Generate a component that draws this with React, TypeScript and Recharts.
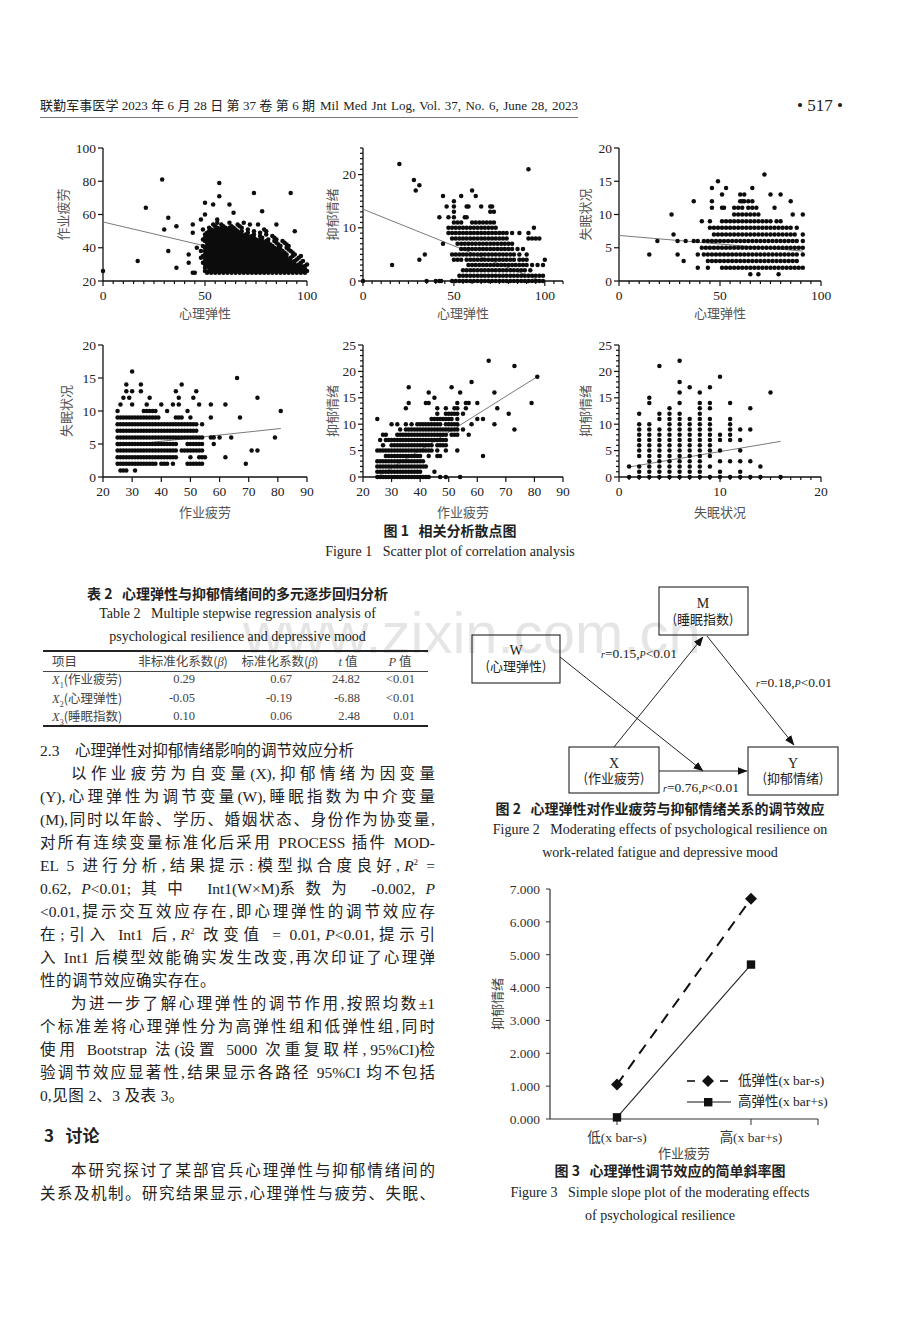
import React, { useLayoutEffect, useRef, useState } from 'react';
import { ScatterChart, Scatter, XAxis, YAxis, LineChart, Line, Legend } from 'recharts';

const SERIF = "'Liberation Serif', 'Times New Roman', serif";
const MIX = "'Liberation Serif', 'Noto Sans CJK SC', serif";
const CJK = "'Noto Sans CJK SC', sans-serif";

type Pt = { x: number; y: number };
type Rows = [number, number[]][];
const rowsToPts = (rows: Rows): Pt[] => rows.flatMap(([y, xs]) => xs.map((x) => ({ x, y })));
const colsToPts = (cols: Rows): Pt[] => cols.flatMap(([x, ys]) => ys.map((y) => ({ x, y })));
const pairsToPts = (pairs: [number, number][]): Pt[] => pairs.map(([x, y]) => ({ x, y }));

// ---------- Figure 1, panel 1: 心理弹性 (x) vs 作业疲劳 (y); rows = [fatigue, resilience values] ----------
const p1Rows: Rows = [
  [25, [45, 51, 53, 55, 57, 59, 61, 63, 65, 67, 69, 71, 73, 75, 77, 79, 81, 83, 85, 87, 89, 91, 93, 95, 97, 99]],
  [26, [50, 52, 54, 56, 58, 60, 62, 64, 66, 68, 70, 72, 74, 76, 78, 80, 82, 84, 86, 88, 90, 92, 94, 96, 98, 100]],
  [27, [53, 55, 57, 59, 61, 63, 65, 67, 69, 71, 73, 75, 77, 79, 81, 83, 85, 87, 89, 91, 93, 95, 97, 99]],
  [28, [50, 52, 54, 56, 58, 60, 62, 64, 66, 68, 70, 72, 74, 76, 78, 80, 82, 84, 86, 88, 90, 92, 94, 96, 98]],
  [29, [51, 53, 55, 57, 59, 61, 63, 65, 67, 69, 71, 73, 75, 77, 79, 81, 83, 85, 87, 89, 91, 93, 95, 97, 99]],
  [30, [50, 52, 54, 56, 58, 60, 62, 64, 66, 68, 70, 72, 74, 76, 78, 80, 82, 84, 86, 88, 90, 92, 94, 96, 100]],
  [31, [49, 51, 53, 55, 57, 59, 61, 63, 65, 67, 69, 71, 73, 75, 77, 79, 81, 83, 85, 87, 89, 91, 93, 97]],
  [32, [50, 52, 54, 56, 58, 60, 62, 64, 66, 68, 70, 72, 74, 76, 78, 80, 82, 84, 86, 88, 90, 92, 94, 98]],
  [33, [51, 53, 55, 57, 59, 61, 63, 65, 67, 69, 71, 73, 75, 77, 79, 81, 83, 85, 87, 89, 91, 95]],
  [34, [48, 50, 52, 54, 56, 58, 60, 62, 64, 66, 68, 70, 72, 74, 76, 78, 80, 82, 84, 86, 88, 90, 92, 96]],
  [35, [49, 51, 53, 55, 57, 59, 61, 63, 65, 67, 69, 71, 73, 75, 77, 79, 81, 83, 85, 87, 89, 93, 97]],
  [36, [50, 52, 54, 56, 58, 60, 62, 64, 66, 68, 70, 72, 74, 76, 78, 80, 82, 84, 86, 88, 90, 94]],
  [37, [51, 53, 55, 57, 59, 61, 63, 65, 67, 69, 71, 73, 75, 77, 79, 81, 83, 85, 87, 89, 93]],
  [38, [48, 50, 52, 54, 56, 58, 60, 62, 64, 66, 68, 70, 72, 74, 76, 78, 80, 82, 84, 86, 88, 92]],
  [39, [51, 53, 55, 57, 59, 61, 63, 65, 67, 69, 71, 73, 75, 77, 79, 81, 83, 85, 87, 91]],
  [40, [50, 52, 54, 56, 58, 60, 62, 64, 66, 68, 70, 72, 74, 76, 78, 80, 82, 84, 86, 90]],
  [41, [49, 51, 53, 55, 57, 59, 61, 63, 65, 67, 69, 71, 73, 75, 77, 79, 81, 83, 87, 91]],
  [42, [52, 54, 56, 58, 60, 62, 64, 66, 68, 70, 72, 74, 76, 78, 80, 82, 86, 90]],
  [43, [51, 53, 55, 57, 59, 61, 63, 65, 67, 69, 71, 73, 75, 77, 79, 81, 85, 89]],
  [44, [50, 52, 54, 56, 58, 60, 62, 64, 66, 68, 70, 72, 74, 76, 78, 80, 84, 88]],
  [45, [49, 51, 53, 55, 57, 59, 61, 63, 65, 67, 69, 71, 73, 75, 77, 81, 85]],
  [46, [50, 52, 54, 56, 58, 60, 62, 64, 66, 68, 70, 72, 74, 78, 84]],
  [47, [51, 53, 55, 57, 59, 61, 63, 65, 67, 69, 71, 73, 77, 83]],
  [48, [50, 52, 54, 56, 58, 60, 62, 64, 66, 68, 70, 74, 80]],
  [49, [51, 53, 55, 57, 59, 61, 63, 65, 67, 71, 77]],
  [50, [52, 54, 56, 58, 60, 62, 64, 66, 68, 74, 80]],
  [51, [49, 53, 55, 57, 59, 61, 63, 65, 71]],
  [52, [52, 56, 58, 60, 62, 64, 68]],
  [53, [55, 59, 63, 67]],
  [54, [54, 58, 66, 72]],
  [55, [56, 62, 69]],
];
const p1Extra: [number, number][] = [
  [0, 26], [17, 32], [21, 64], [29, 81], [30, 51], [32, 58], [32, 38], [36, 53], [36, 28], [42, 36], [42, 31],
  [44, 49], [44, 54], [44, 25], [46, 40], [48, 57], [50, 67], [50, 60], [54, 66], [57, 79], [57, 71], [56, 57],
  [62, 66], [64, 61], [74, 73], [76, 54], [78, 62], [79, 51], [85, 54], [92, 73], [94, 50],
];
const p1Fit: Pt[] = [{ x: 0, y: 55.5 }, { x: 100, y: 26.7 }];

// ---------- panel 2: 心理弹性 (x) vs 抑郁情绪 (y) ----------
const p2Rows: Rows = [
  [0, [49, 51, 53, 55, 57, 59, 61, 63, 65, 67, 69, 71, 73, 75, 77, 79, 81, 83, 85, 87, 89, 91, 93, 95, 97, 99]],
  [1, [53, 55, 57, 59, 61, 63, 65, 67, 69, 71, 73, 75, 77, 79, 81, 83, 85, 87, 89, 91, 93, 95, 97, 99]],
  [2, [55, 57, 59, 61, 63, 65, 67, 69, 71, 73, 75, 77, 79, 81, 83, 85, 87, 89, 92]],
  [3, [58, 60, 62, 64, 66, 68, 70, 72, 74, 76, 78, 80, 82, 84, 86, 88, 90, 93, 96, 99]],
  [4, [50, 52, 54, 57, 59, 61, 63, 65, 67, 69, 71, 73, 75, 77, 79, 81, 83, 86, 88, 90, 100]],
  [5, [49, 51, 53, 55, 57, 59, 61, 63, 65, 67, 69, 71, 73, 75, 77, 79, 81, 83, 86, 90]],
  [6, [54, 56, 58, 60, 62, 64, 66, 68, 70, 72, 74, 76, 78, 80, 82, 85, 88]],
  [7, [52, 54, 56, 58, 60, 62, 64, 66, 68, 70, 72, 74, 76, 78, 80, 82]],
  [8, [49, 51, 53, 55, 57, 59, 61, 63, 65, 67, 69, 71, 73, 75, 77, 79, 91, 93, 95, 97]],
  [9, [47, 49, 51, 53, 55, 57, 59, 61, 63, 65, 67, 69, 71, 73, 75, 77, 79, 82, 86, 91]],
  [10, [47, 49, 51, 53, 55, 57, 59, 61, 63, 65, 67, 69, 71, 73, 94]],
  [11, [50, 52, 54, 60, 62, 64, 66, 68, 70, 72]],
  [12, [47, 50, 56, 57]],
  [13, [50, 70, 72]],
  [14, [46, 50, 57, 58, 65, 70, 71]],
  [15, [50]],
];
const p2Extra: [number, number][] = [
  [0, 0], [16, 3], [20, 22], [28, 19], [29, 17], [31, 18], [31, 4], [34, 5], [35, 0], [40, 0], [42, 0], [43, 0],
  [42, 12], [44, 16], [44, 7], [54, 16], [60, 17], [62, 16], [91, 21],
];
const p2Fit: Pt[] = [{ x: 0, y: 13.5 }, { x: 98, y: 0 }];

// ---------- panel 3: 心理弹性 (x) vs 失眠状况 (y) ----------
const p3Rows: Rows = [
  [1, [65, 69, 79]],
  [2, [39, 44, 51, 53, 55, 57, 59, 61, 63, 65, 67, 69, 71, 73, 75, 77, 79, 81, 83, 85, 87, 89, 91]],
  [3, [32, 44, 46, 48, 50, 52, 54, 56, 58, 60, 62, 64, 66, 68, 70, 72, 74, 76, 78, 80, 82, 84, 86, 88]],
  [4, [15, 29, 39, 42, 44, 46, 48, 50, 52, 54, 56, 58, 60, 62, 64, 66, 68, 70, 72, 74, 76, 78, 80, 82, 84, 86, 88, 91]],
  [5, [41, 43, 45, 47, 49, 51, 53, 55, 57, 59, 61, 63, 65, 67, 69, 71, 73, 75, 77, 79, 81, 83, 85, 87, 89, 91]],
  [6, [19, 29, 33, 37, 39, 42, 44, 46, 48, 50, 52, 54, 56, 58, 60, 62, 64, 66, 68, 70, 72, 74, 76, 78, 80, 82, 84, 86, 88, 91]],
  [7, [27, 47, 49, 51, 53, 55, 57, 59, 61, 63, 65, 67, 69, 71, 73, 75, 77, 79, 81, 83, 85, 87, 91]],
  [8, [45, 47, 49, 51, 53, 55, 57, 59, 61, 63, 65, 67, 69, 71, 73, 75, 77, 79, 81, 83, 85, 88]],
  [9, [41, 45, 51, 53, 55, 57, 59, 61, 63, 65, 67, 69, 71, 73, 75, 78, 80]],
  [10, [26, 57, 59, 61, 63, 65, 67, 69, 86, 91]],
  [11, [46, 51, 52, 57, 59, 61, 64, 66, 68, 77]],
  [12, [37, 46, 60, 61, 62, 64, 66, 85]],
  [13, [51, 60, 62, 75, 80]],
  [14, [46, 53, 66]],
  [15, [49]],
  [16, [72]],
];
const p3Fit: Pt[] = [{ x: 0, y: 6.85 }, { x: 91, y: 4.5 }];

// ---------- panel 4: 作业疲劳 (x) vs 失眠状况 (y) ----------
const p4Rows: Rows = [
  [1, [26, 27, 28, 31]],
  [2, [25, 26, 27, 28, 29, 30, 31, 32, 33, 34, 35, 36, 37, 38, 40, 41, 42, 44, 49, 50, 51, 52, 53, 54, 69]],
  [3, [25, 26, 27, 28, 29, 30, 31, 32, 33, 34, 35, 36, 37, 38, 39, 40, 41, 42, 43, 44, 45, 50, 53, 54, 55, 62]],
  [4, [25, 26, 27, 28, 29, 30, 31, 32, 33, 34, 35, 36, 37, 38, 39, 40, 41, 42, 43, 44, 45, 47, 48, 49, 50, 51, 52, 53, 54, 71, 73]],
  [5, [25, 26, 27, 28, 29, 30, 31, 32, 33, 34, 35, 36, 37, 38, 39, 40, 41, 42, 43, 44, 45, 49, 50, 51, 52, 53, 54, 58]],
  [6, [25, 26, 27, 28, 29, 30, 31, 32, 33, 34, 35, 36, 37, 38, 39, 40, 41, 42, 43, 44, 45, 46, 47, 48, 49, 50, 51, 52, 53, 54, 57, 58, 60, 64, 79]],
  [7, [25, 26, 27, 28, 29, 30, 31, 32, 33, 34, 35, 36, 37, 38, 39, 40, 41, 42, 43, 44, 45, 46, 47, 48, 49, 50, 51, 52]],
  [8, [25, 26, 27, 28, 29, 30, 31, 32, 33, 34, 35, 36, 37, 38, 39, 40, 41, 42, 43, 44, 45, 46, 47, 48, 49, 50, 51, 52, 54]],
  [9, [25, 26, 27, 28, 29, 30, 31, 32, 33, 34, 35, 36, 37, 38, 39, 45, 46, 47, 50, 57, 67]],
  [10, [25, 34, 35, 36, 37, 38, 42, 49, 81]],
  [11, [26, 30, 35, 40, 44, 46, 53, 57, 62]],
  [12, [27, 29, 36, 46, 51, 73]],
  [13, [28, 30, 33, 45, 52]],
  [14, [28, 33, 47]],
  [15, [66]],
  [16, [30]],
];
const p4Fit: Pt[] = [{ x: 25, y: 4.7 }, { x: 81, y: 7.35 }];

// ---------- panel 5: 作业疲劳 (x) vs 抑郁情绪 (y) ----------
const p5Rows: Rows = [
  [0, [25, 26, 27, 28, 29, 30, 31, 32, 33, 34, 35, 36, 37, 38, 39, 40, 41, 42, 43, 47, 49, 54]],
  [1, [25, 26, 27, 28, 29, 30, 31, 32, 33, 34, 35, 36, 37, 38, 39, 40, 45]],
  [2, [25, 26, 27, 28, 29, 30, 31, 32, 33, 34, 35, 36, 37, 38, 39, 40, 41, 42]],
  [3, [25, 26, 27, 28, 29, 30, 31, 32, 33, 34, 35, 36, 37, 38, 39, 40, 41]],
  [4, [28, 29, 30, 31, 32, 33, 34, 35, 36, 37, 38, 39, 40, 43, 46, 47, 62]],
  [5, [25, 26, 27, 28, 29, 30, 31, 32, 33, 34, 35, 36, 37, 38, 39, 40, 41, 42, 43, 44, 46, 49, 53]],
  [6, [27, 30, 31, 32, 33, 34, 35, 36, 37, 38, 39, 40, 41, 42, 43, 44, 46, 47, 48, 49]],
  [7, [26, 28, 29, 30, 31, 32, 33, 34, 35, 36, 37, 38, 39, 40, 41, 42, 43, 44, 45, 46, 47, 48, 49]],
  [8, [27, 28, 32, 33, 34, 35, 36, 37, 38, 39, 40, 41, 42, 43, 44, 45, 46, 47, 48, 49, 51, 52, 53, 57]],
  [9, [33, 35, 36, 37, 38, 39, 40, 41, 42, 43, 44, 45, 46, 47, 48, 49, 50, 51, 52, 53, 55, 73]],
  [10, [30, 32, 35, 37, 39, 40, 41, 42, 43, 44, 45, 46, 47, 49, 50, 51, 52, 53, 58, 66]],
  [11, [25, 44, 45, 46, 47, 48, 49, 50, 51, 53, 60, 62]],
  [12, [46, 49, 50, 51, 52, 53, 55, 71]],
  [13, [35, 46, 49, 52, 53, 56, 67]],
  [14, [36, 42, 43, 53, 56, 57, 60, 79]],
  [15, [45]],
  [16, [43, 54, 66]],
  [17, [36, 51]],
  [18, [58]],
  [19, [81]],
  [21, [73]],
  [22, [64]],
];
const p5Fit: Pt[] = [{ x: 25, y: 0 }, { x: 81, y: 19 }];

// ---------- panel 6: 失眠状况 (x) vs 抑郁情绪 (y), columns = [x, y values] ----------
const p6Cols: Rows = [
  [1, [0, 2]],
  [2, [0, 1, 2, 4, 5, 6, 7, 8, 9, 10, 12]],
  [3, [0, 1, 2, 3, 4, 5, 6, 7, 8, 9, 10, 14, 15]],
  [4, [0, 1, 2, 3, 4, 5, 6, 7, 8, 9, 11, 12, 21]],
  [5, [0, 1, 2, 3, 4, 5, 6, 7, 8, 9, 10, 11, 12, 13]],
  [6, [0, 1, 2, 3, 4, 5, 6, 7, 8, 9, 10, 11, 12, 14, 16, 18, 22]],
  [7, [0, 1, 2, 3, 4, 5, 6, 7, 8, 9, 10, 11, 17]],
  [8, [0, 1, 2, 3, 4, 5, 6, 7, 8, 9, 10, 11, 12, 13, 14, 16]],
  [9, [0, 2, 4, 5, 6, 7, 8, 9, 10, 11, 13, 14, 17]],
  [10, [0, 1, 3, 5, 7, 8, 19]],
  [11, [0, 3, 7, 8, 9, 10, 11, 14]],
  [12, [0, 1, 3, 5, 7, 9]],
  [13, [0, 3, 9, 13]],
  [14, [0, 2]],
  [15, [16]],
  [16, [0]],
];
const p6Fit: Pt[] = [{ x: 1, y: 1.9 }, { x: 16, y: 6.75 }];

// ---------- Figure 3 ----------
const slopeCats = ['低(x bar-s)', '高(x bar+s)'];
const lowResilience = [1.05, 6.7];
const highResilience = [0.05, 4.7];
const slopeYTicks = [0, 1, 2, 3, 4, 5, 6, 7];
const slopeRows = slopeCats.map((c, i) => ({ idx: i, cat: c, low: lowResilience[i], high: highResilience[i] }));

// ---------- Table 2 ----------
const tblHead = ['项目', '非标准化系数(β)', '标准化系数(β)', 't 值', 'P 值'];
const tblItems = ['作业疲劳', '心理弹性', '睡眠指数'];
const tblB = ['0.29', '-0.05', '0.10'];
const tblBeta = ['0.67', '-0.19', '0.06'];
const tblT = ['24.82', '-6.88', '2.48'];
const tblP = ['<0.01', '<0.01', '0.01'];

const Dot = (p: any) => <circle cx={p.cx} cy={p.cy} r={2.25} fill="#0d0d0d" />;
const Nothing = () => <g />;

const XTick = ({ x, y, payload, major }: any) => {
  const isMajor = major.includes(payload.value);
  return (
    <g>
      <line x1={x} x2={x} y1={y} y2={y + (isMajor ? 5 : 3)} stroke="#111" strokeWidth={1.2} />
      {isMajor && (
        <text x={x} y={y + 18.5} textAnchor="middle" fontFamily={SERIF} fontSize={13.5} fill="#222">
          {payload.value}
        </text>
      )}
    </g>
  );
};
const YTick = ({ x, y, payload, major }: any) => {
  const isMajor = major.includes(payload.value);
  return (
    <g>
      <line x1={x - (isMajor ? 5 : 3)} x2={x} y1={y} y2={y} stroke="#111" strokeWidth={1.2} />
      {isMajor && (
        <text x={x - 7} y={y + 4.5} textAnchor="end" fontFamily={SERIF} fontSize={13.5} fill="#222">
          {payload.value}
        </text>
      )}
    </g>
  );
};

function Panel({ box, xDomain, xMajor, xMinor = [], yDomain, yMajor, yMinor = [], xLabel, yLabel, yLabelX, xLabelBase, pts, fit }: any) {
  const [x0, y0, x1, y1] = box;
  const LW = 72, TOP = 8, RIGHT = 14, XH = 44;
  const left = x0 - LW;
  const top = y0 - TOP;
  const width = x1 - x0 + LW + RIGHT;
  const height = y1 - y0 + TOP + XH;
  const xt = [...xMajor, ...xMinor].sort((a: number, b: number) => a - b);
  const yt = [...yMajor, ...yMinor].sort((a: number, b: number) => a - b);
  return (
    <div style={{ position: 'absolute', left, top }}>
      <ScatterChart width={width} height={height} margin={{ top: TOP, right: RIGHT, bottom: 0, left: 0 }}>
        <XAxis
          type="number"
          dataKey="x"
          domain={xDomain}
          ticks={xt}
          interval={0}
          height={XH}
          tickSize={0}
          tickMargin={0}
          tickLine={false}
          axisLine={{ stroke: '#111', strokeWidth: 1.3 }}
          tick={(p: any) => <XTick {...p} major={xMajor} />}
          label={{ value: xLabel, position: 'insideBottom', offset: y1 + XH - xLabelBase, style: { fontFamily: CJK, fontSize: 13, fill: '#555' } }}
        />
        <YAxis
          type="number"
          dataKey="y"
          domain={yDomain}
          ticks={yt}
          interval={0}
          width={LW}
          tickSize={0}
          tickMargin={0}
          tickLine={false}
          axisLine={{ stroke: '#111', strokeWidth: 1.3 }}
          tick={(p: any) => <YTick {...p} major={yMajor} />}
          label={{ value: yLabel, angle: -90, position: 'insideLeft', offset: yLabelX - left, style: { textAnchor: 'middle', fontFamily: CJK, fontSize: 13, fill: '#555' } }}
        />
        <Scatter data={fit} line={{ stroke: '#7a7a7a', strokeWidth: 1 }} shape={Nothing} isAnimationActive={false} />
        <Scatter data={pts} shape={Dot} isAnimationActive={false} />
      </ScatterChart>
    </div>
  );
}

const every = (from: number, to: number, step: number, skip: number[]) => {
  const out: number[] = [];
  for (let v = from; v <= to; v += step) if (!skip.includes(v)) out.push(v);
  return out;
};

const Diamond = (p: any) => (
  <path d={`M${p.cx},${p.cy - 6} L${p.cx + 6},${p.cy} L${p.cx},${p.cy + 6} L${p.cx - 6},${p.cy} Z`} fill="#111" />
);
const Square = (p: any) => <rect x={p.cx - 4.2} y={p.cy - 4.2} width={8.4} height={8.4} fill="#111" />;

const SlopeLegend = () => (
  <div style={{ fontFamily: MIX, fontSize: 13.5, color: '#222', lineHeight: '21px' }}>
    <div style={{ display: 'flex', alignItems: 'center', height: 21 }}>
      <svg width={46} height={14}>
        <line x1={0} x2={8} y1={7} y2={7} stroke="#111" strokeWidth={1.6} />
        <path d="M21,1 L27,7 L21,13 L15,7 Z" fill="#111" />
        <line x1={33} x2={41} y1={7} y2={7} stroke="#111" strokeWidth={1.6} />
      </svg>
      <span style={{ marginLeft: 5 }}>低弹性(x bar-s)</span>
    </div>
    <div style={{ display: 'flex', alignItems: 'center', height: 21 }}>
      <svg width={46} height={14}>
        <line x1={0} x2={44} y1={7} y2={7} stroke="#111" strokeWidth={1} />
        <rect x={17} y={3} width={8.4} height={8.4} fill="#111" />
      </svg>
      <span style={{ marginLeft: 5 }}>高弹性(x bar+s)</span>
    </div>
  </div>
);

const Abs = ({ x, y, w, size = 15, font = MIX, weight = 400, color = '#222', align = 'left', justify = false, indent = 0, h = 23, children }: any) => (
  <div
    style={{
      position: 'absolute',
      left: x,
      top: y - h / 2,
      width: w,
      height: h,
      lineHeight: `${h}px`,
      fontSize: size,
      fontFamily: font,
      fontWeight: weight,
      color,
      textAlign: justify ? 'justify' : align,
      textAlignLast: justify ? 'justify' : align,
      textIndent: indent,
      overflow: 'visible',
    }}
  >
    {children}
  </div>
);

// Body line: extra space is spread over CJK characters, punctuation and spaces (Chinese typesetting style).
const STRETCH_SPLIT = /([\u2E80-\u9FFF\u3000-\u303F\uFF00-\uFFEF,;: ]+)/;
const STRETCH_ONE = /^[\u2E80-\u9FFF\u3000-\u303F\uFF00-\uFFEF,;: ]+$/;
function JLine({ y, indent = 0, fill = true, children }: any) {
  const x = 40;
  const w = 395;
  const ref = useRef<HTMLSpanElement>(null);
  const [ls, setLs] = useState(0);
  useLayoutEffect(() => {
    const el = ref.current;
    if (!el || !fill) return;
    const natural = el.getBoundingClientRect().width;
    let n = 0;
    el.querySelectorAll('.cj').forEach((s) => (n += (s.textContent || '').length));
    const last = el.lastElementChild;
    const endsCj = !!last && last.classList.contains('cj');
    const denom = endsCj ? n - 1 : n;
    if (denom > 0) setLs((w - indent - natural) / denom);
  }, []);
  const sp = fill ? ls : 0.5;
  const parts = React.Children.toArray(children).flatMap((c: any, ci: number) =>
    typeof c === 'string'
      ? c
          .split(STRETCH_SPLIT)
          .filter((s) => s !== '')
          .map((s, i) =>
            STRETCH_ONE.test(s) ? (
              <span key={`${ci}-${i}`} className="cj" style={{ letterSpacing: sp }}>
                {s}
              </span>
            ) : (
              <span key={`${ci}-${i}`}>{s}</span>
            )
          )
      : [c]
  );
  return (
    <div style={{ position: 'absolute', left: x + indent, top: y - 11.5, height: 23, lineHeight: '23px', whiteSpace: 'pre', fontSize: 15.5, fontFamily: MIX, color: '#222' }}>
      <span ref={ref}>{parts}</span>
    </div>
  );
}

const I = ({ children }: any) => <i style={{ fontFamily: SERIF }}>{children}</i>;
const Sup2 = () => <sup style={{ fontSize: 9, lineHeight: '10px', verticalAlign: '6px' }}>2</sup>;

export default function App() {
  return (
    <div style={{ position: 'absolute', left: 0, top: 0, width: 920, height: 1320, background: '#fff', overflow: 'hidden', fontFamily: MIX }}>
      {/* watermark */}
      <div style={{ position: 'absolute', left: 243, top: 603, fontFamily: "'Liberation Sans', Arial, sans-serif", fontSize: 58, lineHeight: '60px', color: 'rgba(0,0,0,0.1)', whiteSpace: 'nowrap' }}>
        www.zixin.com.cn
      </div>

      {/* running header */}
      <Abs x={40} y={106} w={275} size={13} font={MIX} justify h={18}>联勤军事医学 2023 年 6 月 28 日 第 37 卷 第 6 期</Abs>
      <Abs x={320} y={106} w={258} size={13} font={SERIF} justify h={18}>Mil Med Jnt Log, Vol. 37, No. 6, June 28, 2023</Abs>
      <div style={{ position: 'absolute', left: 40, top: 117, width: 538, height: 1, background: '#777' }} />
      <Abs x={770} y={106} w={100} size={17} font={SERIF} align="center" h={20}>• 517 •</Abs>

      {/* Figure 1 */}
      <Panel box={[103, 148, 307, 281]} xDomain={[0, 100]} xMajor={[0, 50, 100]} xMinor={every(5, 95, 5, [50])} yDomain={[20, 100]} yMajor={[20, 40, 60, 80, 100]}
        xLabel="心理弹性" yLabel="作业疲劳" yLabelX={63} xLabelBase={318} pts={[...rowsToPts(p1Rows), ...pairsToPts(p1Extra)]} fit={p1Fit} />
      <Panel box={[363, 148, 563, 281]} xDomain={[0, 110]} xMajor={[0, 50, 100]} xMinor={every(5, 110, 5, [50, 100])} yDomain={[0, 25]} yMajor={[0, 10, 20]} yMinor={every(1, 25, 1, [10, 20])}
        xLabel="心理弹性" yLabel="抑郁情绪" yLabelX={332} xLabelBase={318} pts={[...rowsToPts(p2Rows), ...pairsToPts(p2Extra)]} fit={p2Fit} />
      <Panel box={[619, 148, 821, 281]} xDomain={[0, 100]} xMajor={[0, 50, 100]} xMinor={every(5, 95, 5, [50])} yDomain={[0, 20]} yMajor={[0, 5, 10, 15, 20]}
        xLabel="心理弹性" yLabel="失眠状况" yLabelX={585} xLabelBase={318} pts={rowsToPts(p3Rows)} fit={p3Fit} />
      <Panel box={[103, 345, 307, 477]} xDomain={[20, 90]} xMajor={[20, 30, 40, 50, 60, 70, 80, 90]} yDomain={[0, 20]} yMajor={[0, 5, 10, 15, 20]}
        xLabel="作业疲劳" yLabel="失眠状况" yLabelX={66} xLabelBase={517} pts={rowsToPts(p4Rows)} fit={p4Fit} />
      <Panel box={[363, 345, 563, 477]} xDomain={[20, 90]} xMajor={[20, 30, 40, 50, 60, 70, 80, 90]} yDomain={[0, 25]} yMajor={[0, 5, 10, 15, 20, 25]} yMinor={every(1, 24, 1, [5, 10, 15, 20])}
        xLabel="作业疲劳" yLabel="抑郁情绪" yLabelX={332} xLabelBase={517} pts={rowsToPts(p5Rows)} fit={p5Fit} />
      <Panel box={[619, 345, 821, 477]} xDomain={[0, 20]} xMajor={[0, 10, 20]} xMinor={every(1, 19, 1, [10])} yDomain={[0, 25]} yMajor={[0, 5, 10, 15, 20, 25]} yMinor={every(1, 24, 1, [5, 10, 15, 20])}
        xLabel="失眠状况" yLabel="抑郁情绪" yLabelX={585} xLabelBase={517} pts={colsToPts(p6Cols)} fit={p6Fit} />

      <Abs x={300} y={530} w={300} size={14} font={CJK} weight={700} align="center" h={20}>图 1&nbsp;&nbsp;&nbsp;相关分析散点图</Abs>
      <Abs x={250} y={552} w={400} size={14} font={SERIF} align="center" h={20}>Figure 1&nbsp;&nbsp;&nbsp;Scatter plot of correlation analysis</Abs>

      {/* Table 2 */}
      <Abs x={40} y={593} w={395} size={14} font={CJK} weight={700} align="center" h={20}>表 2&nbsp;&nbsp;&nbsp;心理弹性与抑郁情绪间的多元逐步回归分析</Abs>
      <Abs x={40} y={614} w={395} size={14} font={SERIF} align="center" h={20}>Table 2&nbsp;&nbsp;&nbsp;Multiple stepwise regression analysis of</Abs>
      <Abs x={40} y={637} w={395} size={14} font={SERIF} align="center" h={20}>psychological resilience and depressive mood</Abs>
      <div style={{ position: 'absolute', left: 43, top: 650, width: 385, height: 1.6, background: '#222' }} />
      <div style={{ position: 'absolute', left: 43, top: 671, width: 385, height: 1, background: '#444' }} />
      <div style={{ position: 'absolute', left: 43, top: 725, width: 385, height: 1.6, background: '#222' }} />
      <Abs x={52} y={661} w={60} size={12.5} font={CJK} color="#444" h={18}>{tblHead[0]}</Abs>
      <Abs x={123} y={661} w={120} size={12.5} font={CJK} color="#444" align="center" h={18}>非标准化系数(<I>β</I>)</Abs>
      <Abs x={230} y={661} w={100} size={12.5} font={CJK} color="#444" align="center" h={18}>标准化系数(<I>β</I>)</Abs>
      <Abs x={318} y={661} w={60} size={12.5} font={CJK} color="#444" align="center" h={18}><I>t</I> 值</Abs>
      <Abs x={370} y={661} w={60} size={12.5} font={CJK} color="#444" align="center" h={18}><I>P</I> 值</Abs>
      {tblItems.map((item, i) => {
        const cy = 679 + i * 18.5;
        return (
          <React.Fragment key={item}>
            <Abs x={52} y={cy} w={100} size={12.5} font={CJK} color="#444" h={18}>
              <I>X</I><sub style={{ fontSize: 8, fontFamily: SERIF }}>{i + 1}</sub>({item})
            </Abs>
            <Abs x={135} y={cy} w={60} size={12.5} font={SERIF} color="#444" align="right" h={18}>{tblB[i]}</Abs>
            <Abs x={232} y={cy} w={60} size={12.5} font={SERIF} color="#444" align="right" h={18}>{tblBeta[i]}</Abs>
            <Abs x={300} y={cy} w={60} size={12.5} font={SERIF} color="#444" align="right" h={18}>{tblT[i]}</Abs>
            <Abs x={355} y={cy} w={60} size={12.5} font={SERIF} color="#444" align="right" h={18}>{tblP[i]}</Abs>
          </React.Fragment>
        );
      })}

      {/* Section 2.3 text */}
      <Abs x={40} y={750} w={360} size={15.5} font={MIX} h={23}>2.3&nbsp;&nbsp;&nbsp;&nbsp;心理弹性对抑郁情绪影响的调节效应分析</Abs>
      <JLine y={773} indent={31}>以作业疲劳为自变量(X),抑郁情绪为因变量</JLine>
      <JLine y={796}>(Y),心理弹性为调节变量(W),睡眠指数为中介变量</JLine>
      <JLine y={819}>(M),同时以年龄、学历、婚姻状态、身份作为协变量,</JLine>
      <JLine y={842}>对所有连续变量标准化后采用 PROCESS 插件 MOD-</JLine>
      <JLine y={865}>EL 5 进行分析,结果提示:模型拟合度良好,<I>R</I><Sup2 /> =</JLine>
      <JLine y={888}>0.62,<I>P</I>&lt;0.01;其中 Int1(W×M)系数为 -0.002,<I>P</I></JLine>
      <JLine y={911}>&lt;0.01,提示交互效应存在,即心理弹性的调节效应存</JLine>
      <JLine y={934}>在;引入 Int1 后,<I>R</I><Sup2 /> 改变值 = 0.01,<I>P</I>&lt;0.01,提示引</JLine>
      <JLine y={957}>入 Int1 后模型效能确实发生改变,再次印证了心理弹</JLine>
      <JLine y={980} fill={false}>性的调节效应确实存在。</JLine>
      <JLine y={1003} indent={31}>为进一步了解心理弹性的调节作用,按照均数±1</JLine>
      <JLine y={1026}>个标准差将心理弹性分为高弹性组和低弹性组,同时</JLine>
      <JLine y={1049}>使用 Bootstrap 法(设置 5000 次重复取样,95%CI)检</JLine>
      <JLine y={1072}>验调节效应显著性,结果显示各路径 95%CI 均不包括</JLine>
      <JLine y={1095} fill={false}>0,见图 2、3 及表 3。</JLine>
      <Abs x={44} y={1134} w={200} size={17} font={CJK} weight={700}>3&nbsp;&nbsp;&nbsp;讨论</Abs>
      <JLine y={1170} indent={31}>本研究探讨了某部官兵心理弹性与抑郁情绪间的</JLine>
      <JLine y={1193}>关系及机制。研究结果显示,心理弹性与疲劳、失眠、</JLine>

      {/* Figure 2 diagram */}
      <svg style={{ position: 'absolute', left: 460, top: 580 }} width={400} height={225} viewBox="460 580 400 225">
        <defs>
          <marker id="ah" markerWidth="10" markerHeight="8" refX="9.5" refY="4" orient="auto" markerUnits="userSpaceOnUse">
            <path d="M0,0 L10,4 L0,8 Z" fill="#111" />
          </marker>
        </defs>
        <rect x={659} y={587} width={89} height={48} fill="none" stroke="#222" strokeWidth={1.1} />
        <rect x={472} y={635} width={88} height={48} fill="none" stroke="#222" strokeWidth={1.1} />
        <rect x={569} y={747} width={90} height={46} fill="none" stroke="#222" strokeWidth={1.1} />
        <rect x={748} y={747} width={90} height={48} fill="none" stroke="#222" strokeWidth={1.1} />
        <line x1={614} y1={747} x2={703} y2={637} stroke="#222" strokeWidth={1} markerEnd="url(#ah)" />
        <line x1={707} y1={636} x2={794} y2={745} stroke="#222" strokeWidth={1} markerEnd="url(#ah)" />
        <line x1={560} y1={657} x2={703} y2={771} stroke="#222" strokeWidth={1} markerEnd="url(#ah)" />
        <line x1={659} y1={771} x2={747} y2={771} stroke="#222" strokeWidth={1} markerEnd="url(#ah)" />
        <g fontFamily={SERIF} fontSize={14} fill="#222" textAnchor="middle">
          <text x={703} y={608}>M</text>
          <text x={516} y={655}>W</text>
          <text x={614} y={768}>X</text>
          <text x={793} y={768}>Y</text>
        </g>
        <g fontFamily={CJK} fontSize={13} fill="#222" textAnchor="middle">
          <text x={703} y={624}>(睡眠指数)</text>
          <text x={516} y={671}>(心理弹性)</text>
          <text x={614} y={783}>(作业疲劳)</text>
          <text x={793} y={783}>(抑郁情绪)</text>
        </g>
        <g fontFamily={SERIF} fontSize={13.5} fill="#222" textAnchor="middle">
          <text x={639} y={658}><tspan fontStyle="italic" fontSize={10}>r</tspan>=0.15,<tspan fontStyle="italic" fontSize={10}>P</tspan>&lt;0.01</text>
          <text x={794} y={687}><tspan fontStyle="italic" fontSize={10}>r</tspan>=0.18,<tspan fontStyle="italic" fontSize={10}>P</tspan>&lt;0.01</text>
          <text x={701} y={792}><tspan fontStyle="italic" fontSize={10}>r</tspan>=0.76,<tspan fontStyle="italic" fontSize={10}>P</tspan>&lt;0.01</text>
        </g>
      </svg>
      <Abs x={460} y={808} w={400} size={14} font={CJK} weight={700} align="center" h={20}>图 2&nbsp;&nbsp;&nbsp;心理弹性对作业疲劳与抑郁情绪关系的调节效应</Abs>
      <Abs x={450} y={830} w={420} size={14} font={SERIF} align="center" h={20}>Figure 2&nbsp;&nbsp;&nbsp;Moderating effects of psychological resilience on</Abs>
      <Abs x={450} y={853} w={420} size={14} font={SERIF} align="center" h={20}>work-related fatigue and depressive mood</Abs>

      {/* Figure 3 */}
      <div style={{ position: 'absolute', left: 470, top: 870 }}>
        <LineChart width={370} height={300} data={slopeRows} margin={{ top: 19, right: 22, bottom: 0, left: 0 }}>
          <XAxis
            type="number"
            dataKey="idx"
            domain={[-0.5, 1.5]}
            ticks={[0, 1, 1.5]}
            interval={0}
            height={51}
            tickSize={6}
            tickMargin={7}
            tickFormatter={(v: number) => slopeCats[v] ?? ''}
            axisLine={{ stroke: '#333', strokeWidth: 1.2 }}
            tickLine={{ stroke: '#333' }}
            tick={{ fontFamily: MIX, fontSize: 13.5, fill: '#333' }}
            label={{ value: '作业疲劳', position: 'insideBottom', offset: 12, style: { fontFamily: CJK, fontSize: 13, fill: '#444' } }}
          />
          <YAxis
            type="number"
            domain={[0, 7]}
            ticks={slopeYTicks}
            interval={0}
            width={80}
            tickSize={4}
            tickMargin={6}
            tickFormatter={(v: number) => v.toFixed(3)}
            axisLine={{ stroke: '#333', strokeWidth: 1.2 }}
            tickLine={{ stroke: '#333' }}
            tick={{ fontFamily: SERIF, fontSize: 13.5, fill: '#333' }}
            label={{ value: '抑郁情绪', angle: -90, position: 'insideLeft', offset: 27, style: { textAnchor: 'middle', fontFamily: CJK, fontSize: 13, fill: '#444' } }}
          />
          <Line dataKey="low" stroke="#111" strokeWidth={2} strokeDasharray="11 8" dot={Diamond} activeDot={false} isAnimationActive={false} />
          <Line dataKey="high" stroke="#222" strokeWidth={1.1} dot={Square} activeDot={false} isAnimationActive={false} />
          <Legend layout="horizontal" verticalAlign="middle" align="center" content={<SlopeLegend />} wrapperStyle={{ left: 217, top: 200, width: 150 }} />
        </LineChart>
      </div>
      <Abs x={470} y={1170} w={400} size={14} font={CJK} weight={700} align="center" h={20}>图 3&nbsp;&nbsp;&nbsp;心理弹性调节效应的简单斜率图</Abs>
      <Abs x={450} y={1193} w={420} size={14} font={SERIF} align="center" h={20}>Figure 3&nbsp;&nbsp;&nbsp;Simple slope plot of the moderating effects</Abs>
      <Abs x={450} y={1216} w={420} size={14} font={SERIF} align="center" h={20}>of psychological resilience</Abs>
    </div>
  );
}
